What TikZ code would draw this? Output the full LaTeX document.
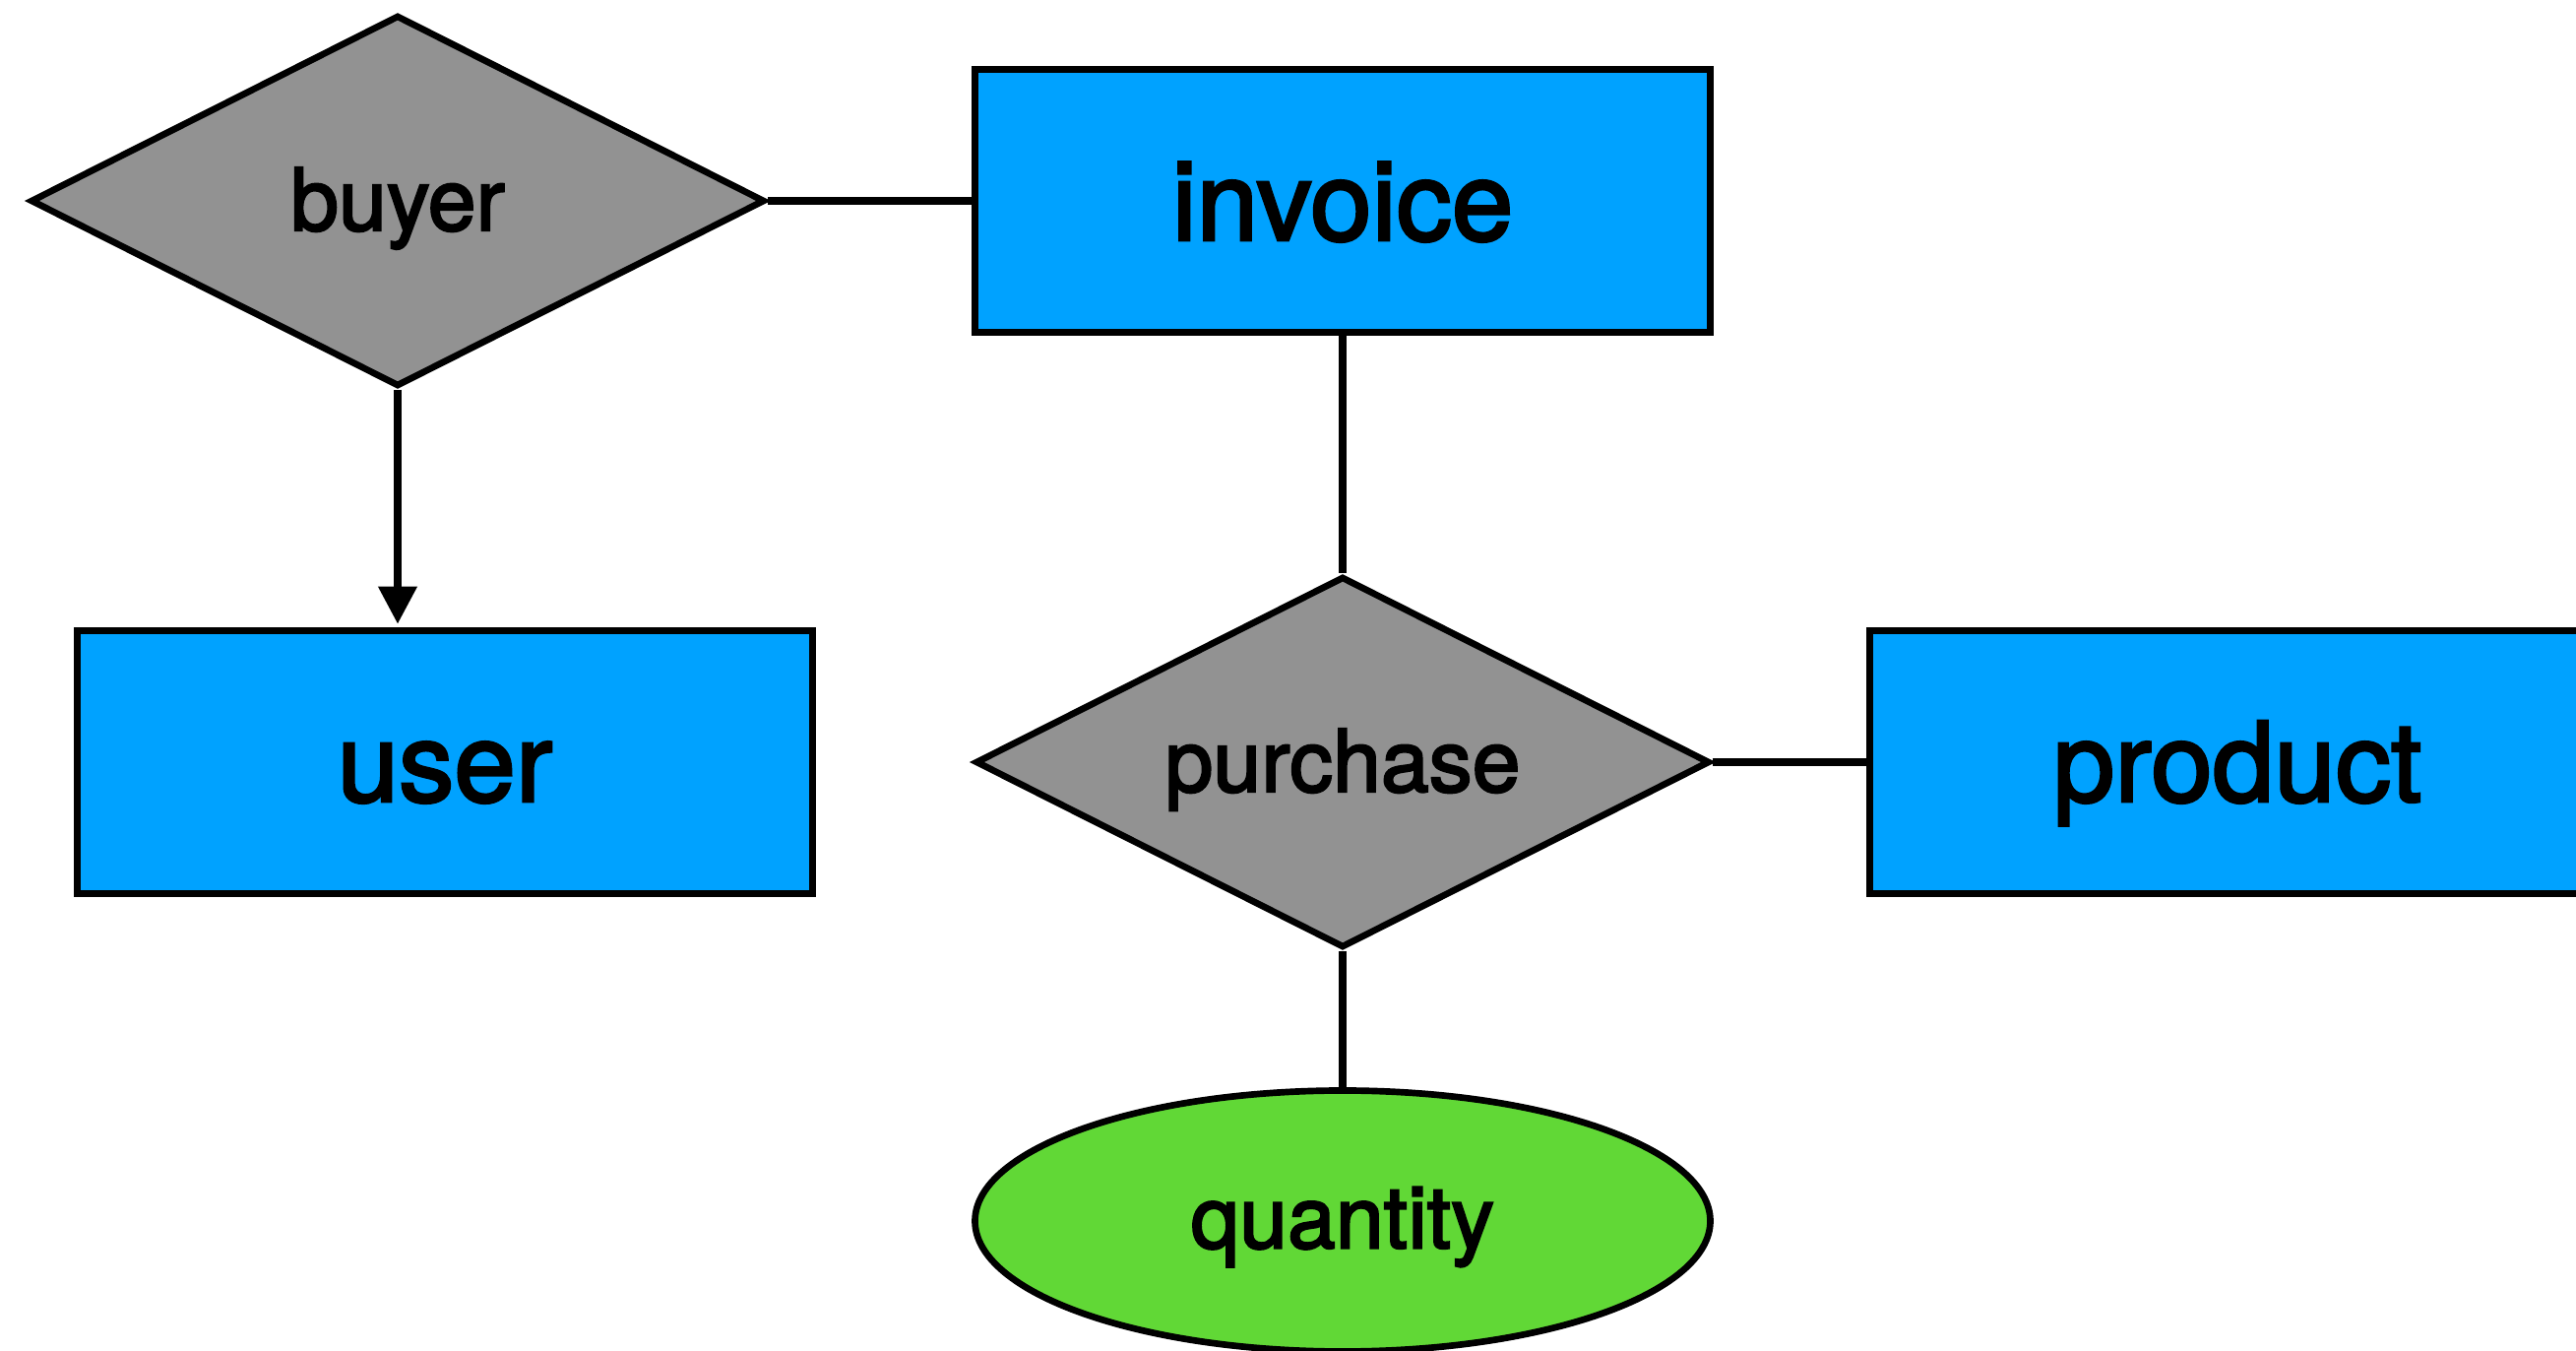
\documentclass[tikz,border=0pt]{standalone}
\usepackage{fontspec}
\setmainfont{TeX Gyre Heros}
\newfontfamily\erfont{TeX Gyre Heros}[FakeBold=2.5]
\definecolor{entblue}{RGB}{0, 162, 255}
\definecolor{relgray}{RGB}{146, 146, 146}
\definecolor{attrgreen}{RGB}{97, 216, 54}
\usetikzlibrary{shapes.geometric, arrows.meta, positioning}

\begin{document}
\begin{tikzpicture}[
  entity/.style={rectangle, draw=black, fill=entblue, line width=1.9pt, inner sep=0pt, minimum width=7.47cm, minimum height=2.67cm, text height=1.1cm, text depth=0.3cm, font=\erfont\fontsize{32}{38}\selectfont},
  relation/.style={diamond, draw=black, fill=relgray, line width=1.9pt, inner sep=0pt, minimum width=7.46cm, minimum height=3.77cm},
  reltext/.style={inner sep=0pt, text height=0.85cm, text depth=0.25cm, font=\erfont\fontsize{25}{30}\selectfont},
  attribute/.style={ellipse, draw=black, fill=attrgreen, line width=1.9pt, inner sep=0pt, minimum width=7.47cm, minimum height=2.65cm, text height=0.85cm, text depth=0.3cm, font=\erfont\fontsize{25}{30}\selectfont},
  link/.style={line width=2.1pt, draw=black},
  arr/.style={-{Triangle[width=3.8mm, length=3.8mm]}, line width=2.1pt, draw=black, shorten >=1pt}
]
  \useasboundingbox (0,0) rectangle (26.17,-13.72);
  \node[relation, label={[reltext]center:buyer}] (buyer) at (4.04, -2.04) {};
  \node[entity] (invoice) at (13.64, -2.04) {invoice};
  \node[entity] (user) at (4.52, -7.74) {user};
  \node[relation, label={[reltext]center:purchase}] (purchase) at (13.64, -7.74) {};
  \node[entity] (product) at (22.73, -7.74) {product};
  \node[attribute] (quantity) at (13.64, -12.40) {quantity};
  \draw[link] (buyer.east) -- (invoice.west);
  \draw[arr] (buyer.south) -- (buyer.south |- user.north);
  \draw[link] (invoice.south) -- (purchase.north);
  \draw[link] (purchase.east) -- (product.west);
  \draw[link] (purchase.south) -- (quantity.north);
\end{tikzpicture}
\end{document}
